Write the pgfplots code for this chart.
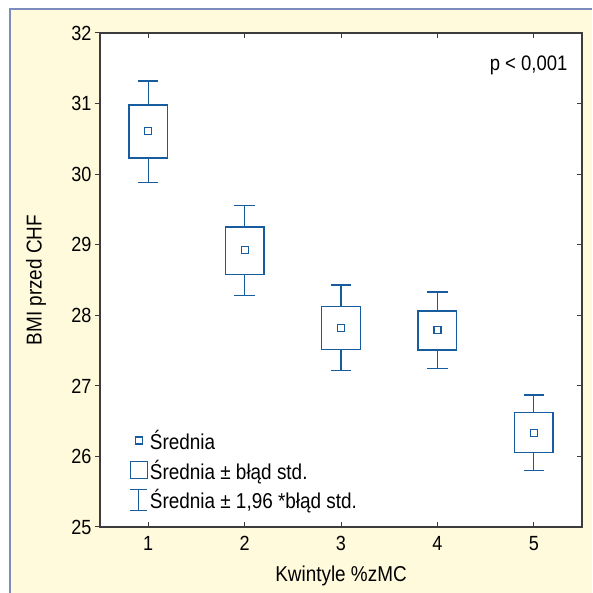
\documentclass[border=0pt]{standalone}
\usepackage{fontspec}
\setmainfont[FakeStretch=0.88]{Liberation Sans}
\usepackage{pgfplots}
\pgfplotsset{compat=1.18}
\definecolor{mblue}{RGB}{24,92,160}
\definecolor{cream}{RGB}{255,250,220}
\definecolor{framec}{RGB}{125,140,190}
\definecolor{axisc}{RGB}{60,60,60}

\begin{document}
\begin{tikzpicture}
\useasboundingbox (0pt,0pt) rectangle (592pt,593pt);
\fill[cream] (10pt,0pt) rectangle (592pt,584pt);
\draw[framec, line width=2.5pt] (10pt,0pt) -- (10pt,584pt) -- (592pt,584pt);

\pgfplotsset{
  common/.style={
    at={(100pt,66pt)}, anchor=south west,
    width=482pt, height=494pt, scale only axis,
    xmin=0.5, xmax=5.5, ymin=25, ymax=32,
    axis line style={axisc, line width=1.1pt},
    major tick style={axisc, line width=1pt},
    major tick length=5pt,
    /pgf/number format/assume math mode=true,
    tick label style={font=\fontsize{20.5}{24}\selectfont},
    label style={font=\fontsize{21.5}{26}\selectfont},
  },
  boxline/.style={mblue, line width=1.3pt, unbounded coords=jump, mark=none, forget plot},
}

% y ticks outside on the left, with labels
\begin{axis}[common,
    axis background/.style={fill=white},
    tick align=outside,
    xtick=\empty,
    ytick={25,26,27,28,29,30,31,32},
    ytick pos=left,
    ylabel={BMI przed CHF},
    ylabel style={at={(axis description cs:-0.1327,0.5)}, anchor=center},
  ]
\end{axis}

\begin{axis}[common,
    tick align=inside,
    xtick={1,2,3,4,5},
    xtick pos=both,
    ytick={25,26,27,28,29,30,31,32},
    ytick pos=right,
    yticklabels={},
    xticklabel pos=bottom,
    xticklabel style={yshift=-6pt},
    xlabel={Kwintyle \%zMC},
    xlabel style={at={(axis description cs:0.5,-0.0992)}, anchor=center},
    legend style={draw=none, fill=none, at={(rel axis cs:0.055,0.025)}, anchor=south west,
      font=\fontsize{21.5}{26}\selectfont, row sep=5pt, cells={anchor=west}},
  ]
\addlegendimage{legend image code/.code={
  \path[draw=none] (0pt,0pt) -- (17pt,0pt);
  \draw[mblue, line width=1.2pt] (5pt,-3.5pt) rectangle (12pt,3.5pt);}}
\addlegendimage{legend image code/.code={
  \draw[mblue, line width=1.2pt] (0pt,-8.5pt) rectangle (17pt,8.5pt);}}
\addlegendimage{legend image code/.code={
  \draw[mblue, line width=1.2pt] (8.5pt,-10.5pt) -- (8.5pt,10.5pt)
    (0pt,-10.5pt) -- (17pt,-10.5pt) (0pt,10.5pt) -- (17pt,10.5pt);}}
\legend{Średnia, {Średnia ± błąd std.}, {Średnia ± 1,96 *błąd std.}}

% boxes: mean +/- std. error, whiskers: mean +/- 1.96 std. error
\addplot[boxline] coordinates {
  (1,30.23) (1.2,30.23) (1.2,30.98) (0.8,30.98) (0.8,30.23) (1,30.23) (1,29.88) (1,nan)
  (1,30.98) (1,31.32) (1,nan)
  (0.895,31.32) (1.105,31.32) (1,nan) (0.895,29.88) (1.105,29.88)};
\addplot[boxline] coordinates {
  (2,28.58) (2.2,28.58) (2.2,29.25) (1.8,29.25) (1.8,28.58) (2,28.58) (2,28.28) (2,nan)
  (2,29.25) (2,29.56) (2,nan)
  (1.895,29.56) (2.105,29.56) (2,nan) (1.895,28.28) (2.105,28.28)};
\addplot[boxline] coordinates {
  (3,27.52) (3.2,27.52) (3.2,28.12) (2.8,28.12) (2.8,27.52) (3,27.52) (3,27.22) (3,nan)
  (3,28.12) (3,28.43) (3,nan)
  (2.895,28.43) (3.105,28.43) (3,nan) (2.895,27.22) (3.105,27.22)};
\addplot[boxline] coordinates {
  (4,27.51) (4.2,27.51) (4.2,28.06) (3.8,28.06) (3.8,27.51) (4,27.51) (4,27.25) (4,nan)
  (4,28.06) (4,28.33) (4,nan)
  (3.895,28.33) (4.105,28.33) (4,nan) (3.895,27.25) (4.105,27.25)};
\addplot[boxline] coordinates {
  (5,26.06) (5.2,26.06) (5.2,26.62) (4.8,26.62) (4.8,26.06) (5,26.06) (5,25.80) (5,nan)
  (5,26.62) (5,26.87) (5,nan)
  (4.895,26.87) (5.105,26.87) (5,nan) (4.895,25.80) (5.105,25.80)};

% means
\addplot[forget plot, only marks, mark=square*, mark size=3.5pt, mblue, line width=1.2pt,
  mark options={fill=white}]
  coordinates {(1,30.61) (2,28.92) (3,27.82) (4,27.79) (5,26.33)};

\node[anchor=base east, font=\fontsize{21}{25}\selectfont]
  at (rel axis cs:0.977,0.925) {p < 0,001};
\end{axis}
\end{tikzpicture}
\end{document}
